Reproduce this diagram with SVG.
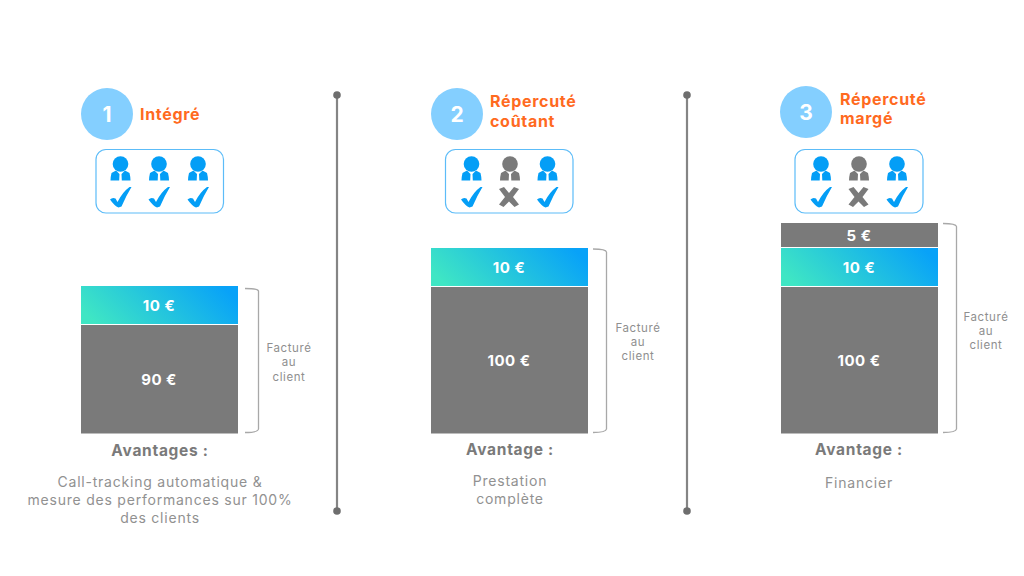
<svg xmlns="http://www.w3.org/2000/svg" width="1024" height="576" viewBox="0 0 1024 576">
<style>
text{font-family:"Inter","Liberation Sans",sans-serif;text-anchor:middle}
.num{font-size:21px;font-weight:700;fill:#fff}
.title{font-size:16px;font-weight:700;fill:#ff6a1f;text-anchor:start;letter-spacing:.7px}
.val{font-size:15px;font-weight:700;fill:#fff;letter-spacing:.5px}
.fac{font-size:11.500px;fill:#8f8f8f;letter-spacing:.6px}
.adv{font-size:15.500px;font-weight:700;fill:#7a7a7a;letter-spacing:.7px}
.desc{font-size:14px;fill:#919191;letter-spacing:.78px}
.circ{fill:#84cfff}
.box{fill:#fff;stroke:#5cbcf8;stroke-width:1.2}
.grey{fill:#7a7a7a}
.sep{stroke:#858585;stroke-width:2.2;fill:none}
.dot{fill:#6e6e6e}
.brace{fill:none;stroke:#a8a8a8;stroke-width:1.3}
</style>
<defs>
<linearGradient id="grad" x1="0" y1="0.62" x2="1" y2="0.38"><stop offset="0" stop-color="#3fe6c4"/><stop offset="1" stop-color="#08a2f8"/></linearGradient>
<g id="body"><circle cx="0" cy="0" r="7.800"/><path d="M-4.500 6.500 L-9 9 Q-10 13 -10 16.500 H10 Q10 13 9 9 L4.500 6.500 L1 10 L1.300 16.500 H-1.300 L-1 10 Z"/></g>
<g id="pb" fill="#049ef6"><use href="#body"/></g>
<g id="pg" fill="#7a7a7a"><use href="#body"/></g>
<path id="ck" fill="#049ef6" d="M-10.500 2.500 Q-8 0 -5 1.500 L-3 5 Q2 -5 9 -10 H11 Q6 -2 1 9.500 L-2 10.500 Q-6 9 -10.500 2.500 Z"/>
<path id="xx" fill="#7a7a7a" d="M-10 -8 L-5 -10 L0 -4 L5 -10 L10 -8 L4 0 L10 7.500 L5.500 10 L0 4.500 L-5.500 10 L-10 7.500 L-4 0 Z"/>
</defs>
<rect width="1024" height="576" fill="#fff"/>
<g id="connectors">
<path class="sep" d="M337 95V511"/><circle class="dot" cx="337" cy="95" r="3.800"/><circle class="dot" cx="337" cy="511" r="3.800"/>
<path class="sep" d="M687 95V511"/><circle class="dot" cx="687" cy="95" r="3.800"/><circle class="dot" cx="687" cy="511" r="3.800"/>
<path class="brace" d="M245 288.500Q258 288.500 258.500 291V429Q258 432.500 245 432.500"/>
<path class="brace" d="M593 249Q606 249 606.500 252V429Q606 432.500 593 432.500"/>
<path class="brace" d="M943 223.500Q956 223.500 956.500 226.500V429Q956 432.500 943 432.500"/>
</g>
<g id="node-1">
<circle class="circ" cx="107" cy="114" r="26"/><text class="num" x="107" y="121.500">1</text>
<text class="title" x="140" y="119.500">Intégré</text>
<rect class="box" x="96" y="149.500" width="127.500" height="63.500" rx="10"/>
<use href="#pb" x="120.500" y="164"/><use href="#pb" x="159" y="164"/><use href="#pb" x="198" y="164"/>
<use href="#ck" x="120.500" y="197"/><use href="#ck" x="159" y="197"/><use href="#ck" x="198" y="197"/>
<rect x="81" y="286" width="157" height="38" fill="url(#grad)"/>
<rect class="grey" x="81" y="325" width="157" height="108.500"/>
<text class="val" x="159" y="311">10 €</text><text class="val" x="159" y="385">90 €</text>
<text class="fac" x="289" y="352">Facturé</text><text class="fac" x="289" y="366">au</text><text class="fac" x="289" y="381">client</text>
<text class="adv" x="160" y="456">Avantages :</text>
<text class="desc" x="160" y="487">Call-tracking automatique &amp;</text>
<text class="desc" x="160" y="505">mesure des performances sur 100%</text>
<text class="desc" x="160" y="523">des clients</text>
</g>
<g id="node-2">
<circle class="circ" cx="457" cy="114" r="26"/><text class="num" x="457" y="121.500">2</text>
<text class="title" x="490" y="107">Répercuté</text><text class="title" x="490" y="127">coûtant</text>
<rect class="box" x="445.500" y="149.500" width="127.500" height="63.500" rx="10"/>
<use href="#pb" x="471.500" y="164"/><use href="#pg" x="510" y="164"/><use href="#pb" x="547.500" y="164"/>
<use href="#ck" x="471.500" y="197"/><use href="#xx" x="509" y="197"/><use href="#ck" x="547.500" y="197"/>
<rect x="431" y="248" width="157" height="38" fill="url(#grad)"/>
<rect class="grey" x="431" y="287" width="157" height="146.500"/>
<text class="val" x="509" y="272.500">10 €</text><text class="val" x="509" y="366">100 €</text>
<text class="fac" x="638" y="332">Facturé</text><text class="fac" x="638" y="346">au</text><text class="fac" x="638" y="360">client</text>
<text class="adv" x="510" y="455">Avantage :</text>
<text class="desc" x="510" y="486">Prestation</text><text class="desc" x="510" y="504">complète</text>
</g>
<g id="node-3">
<circle class="circ" cx="806" cy="112" r="26"/><text class="num" x="806" y="119.500">3</text>
<text class="title" x="840" y="104.500">Répercuté</text><text class="title" x="840" y="124">margé</text>
<rect class="box" x="795" y="149.500" width="128" height="63.500" rx="10"/>
<use href="#pb" x="821" y="164"/><use href="#pg" x="859" y="164"/><use href="#pb" x="897" y="164"/>
<use href="#ck" x="821" y="197"/><use href="#xx" x="858.500" y="197"/><use href="#ck" x="897" y="197"/>
<rect class="grey" x="781" y="223" width="157" height="24"/>
<rect x="781" y="248" width="157" height="38" fill="url(#grad)"/>
<rect class="grey" x="781" y="287" width="157" height="146.500"/>
<text class="val" x="859" y="241">5 €</text><text class="val" x="859" y="272.500">10 €</text><text class="val" x="859" y="366">100 €</text>
<text class="fac" x="986" y="321">Facturé</text><text class="fac" x="986" y="335">au</text><text class="fac" x="986" y="349">client</text>
<text class="adv" x="859" y="455">Avantage :</text>
<text class="desc" x="859" y="488">Financier</text>
</g>
</svg>
